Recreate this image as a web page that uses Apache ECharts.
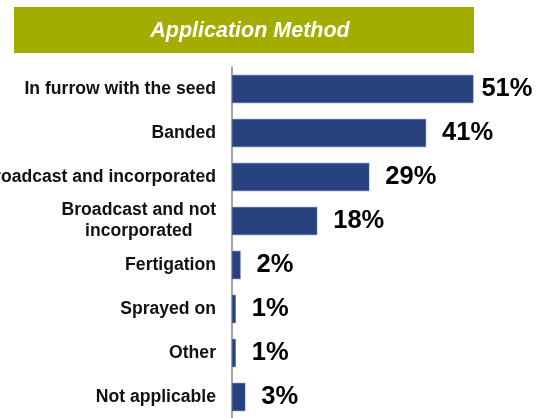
<!DOCTYPE html>
<html>
<head>
<meta charset="utf-8">
<script src="https://cdn.jsdelivr.net/npm/echarts@6/dist/echarts.min.js"></script>
<style>html,body{margin:0;padding:0;background:#fff}#c{width:551px;height:418px}</style>
</head>
<body>
<div id="c"></div>
<script>
var categories = ['In furrow with the seed', 'Banded', 'Broadcast and incorporated', 'Broadcast and not\nincorporated', 'Fertigation', 'Sprayed on', 'Other', 'Not applicable'];
var values = [51, 41, 29, 18, 1.8, 0.8, 0.8, 2.8];
var pctLabels = ['51%', '41%', '29%', '18%', '2%', '1%', '1%', '3%'];
var titleText = 'Application Method';

var chart = echarts.init(document.getElementById('c'));
var data = values.map(function (v, i) {
  return i === 0 ? { value: v, label: { distance: 8 } } : v;
});
chart.setOption({
  animation: false,
  graphic: [
    { type: 'rect', shape: { x: 14, y: 7, width: 460, height: 46 }, style: { fill: '#a3ad00' } }
  ],
  title: {
    text: titleText,
    left: 245, top: 26, textAlign: 'center', textVerticalAlign: 'middle',
    textStyle: { color: '#fff', fontFamily: 'Liberation Sans, Arial', fontWeight: 'bold', fontStyle: 'italic', fontSize: 21.5 }
  },
  grid: { left: 232, top: 67, width: 284, height: 352, outerBoundsMode: 'none', containLabel: false },
  xAxis: { type: 'value', min: 0, max: 60, show: false },
  yAxis: {
    type: 'category', inverse: true, data: categories,
    axisLine: { lineStyle: { color: '#888', width: 1.5 } },
    axisTick: { length: 5, lineStyle: { color: '#888', width: 1.5 } },
    axisLabel: {
      margin: 16, color: '#111', fontFamily: 'Liberation Sans, Arial', fontWeight: 'bold', fontSize: 17.6,
      lineHeight: 21,
      formatter: function (v) {
        if (v.indexOf('\n') >= 0) {
          return v.split('\n').map(function (s) { return '{c|' + s + '}'; }).join('\n');
        }
        return v;
      },
      rich: { c: { align: 'center', fontFamily: 'Liberation Sans, Arial', fontWeight: 'bold', fontSize: 17.6, color: '#111', lineHeight: 21 } }
    }
  },
  series: [{
    type: 'bar', data: data, barCategoryGap: '36%',
    itemStyle: { color: '#27427f', borderColor: '#4a63a0', borderWidth: 0.5 },
    label: {
      show: true, position: 'right', distance: 16,
      color: '#000', fontFamily: 'Liberation Sans, Arial', fontWeight: 'bold', fontSize: 25.5,
      formatter: function (p) { return pctLabels[p.dataIndex]; }
    }
  }]
});
</script>
</body>
</html>
